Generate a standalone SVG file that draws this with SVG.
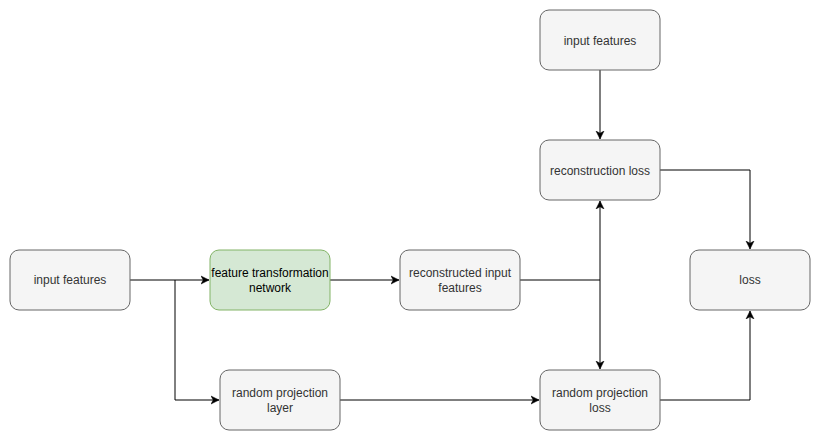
<svg xmlns="http://www.w3.org/2000/svg" width="821" height="441" viewBox="0 0 821 441">
<style>
.n rect{fill:#f5f5f5;stroke:#666666;stroke-width:1}
.g rect{fill:#d5e8d4;stroke:#82b366;stroke-width:1}
text{font-family:"Liberation Sans",Arial,Helvetica,sans-serif;font-size:12px;fill:#333333;text-anchor:middle}
.g text{fill:#000000}
.c path{fill:none;stroke:#000000;stroke-width:1;marker-end:url(#a)}
</style>
<defs>
<marker id="a" markerUnits="userSpaceOnUse" markerWidth="10" markerHeight="10" refX="8" refY="4" orient="auto" viewBox="0 0 10 8">
<path d="M0,0 L8,4 L0,8 L2.2,4 Z" fill="#000000" stroke="#000000" stroke-width="0.5"/>
</marker>
</defs>
<rect width="821" height="441" fill="#ffffff"/>
<g class="c">
<path d="M130,280 L209,280"/>
<path d="M175,280 L175,400 L219,400"/>
<path d="M330,280 L399,280"/>
<path d="M520,280 L600,280 L600,201"/>
<path d="M600,280 L600,369"/>
<path d="M600,70 L600,139"/>
<path d="M660,170 L750,170 L750,249"/>
<path d="M340,400 L539,400"/>
<path d="M660,400 L750,400 L750,311"/>
</g>
<g id="input1" class="n"><rect x="10" y="250" width="120" height="60" rx="9"/><text x="70" y="284">input features</text></g>
<g id="ftn" class="g"><rect x="210" y="250" width="120" height="60" rx="9"/><text x="270" y="277">feature transformation</text><text x="270" y="292">network</text></g>
<g id="recon" class="n"><rect x="400" y="250" width="120" height="60" rx="9"/><text x="460" y="277">reconstructed input</text><text x="460" y="292">features</text></g>
<g id="input2" class="n"><rect x="540" y="10" width="120" height="60" rx="9"/><text x="600" y="45">input features</text></g>
<g id="rloss" class="n"><rect x="540" y="140" width="120" height="60" rx="9"/><text x="600" y="175">reconstruction loss</text></g>
<g id="loss" class="n"><rect x="690" y="250" width="120" height="60" rx="9"/><text x="750" y="284">loss</text></g>
<g id="rpl" class="n"><rect x="220" y="370" width="120" height="60" rx="9"/><text x="280" y="397">random projection</text><text x="280" y="412">layer</text></g>
<g id="rploss" class="n"><rect x="540" y="370" width="120" height="60" rx="9"/><text x="600" y="397">random projection</text><text x="600" y="412">loss</text></g>
</svg>
